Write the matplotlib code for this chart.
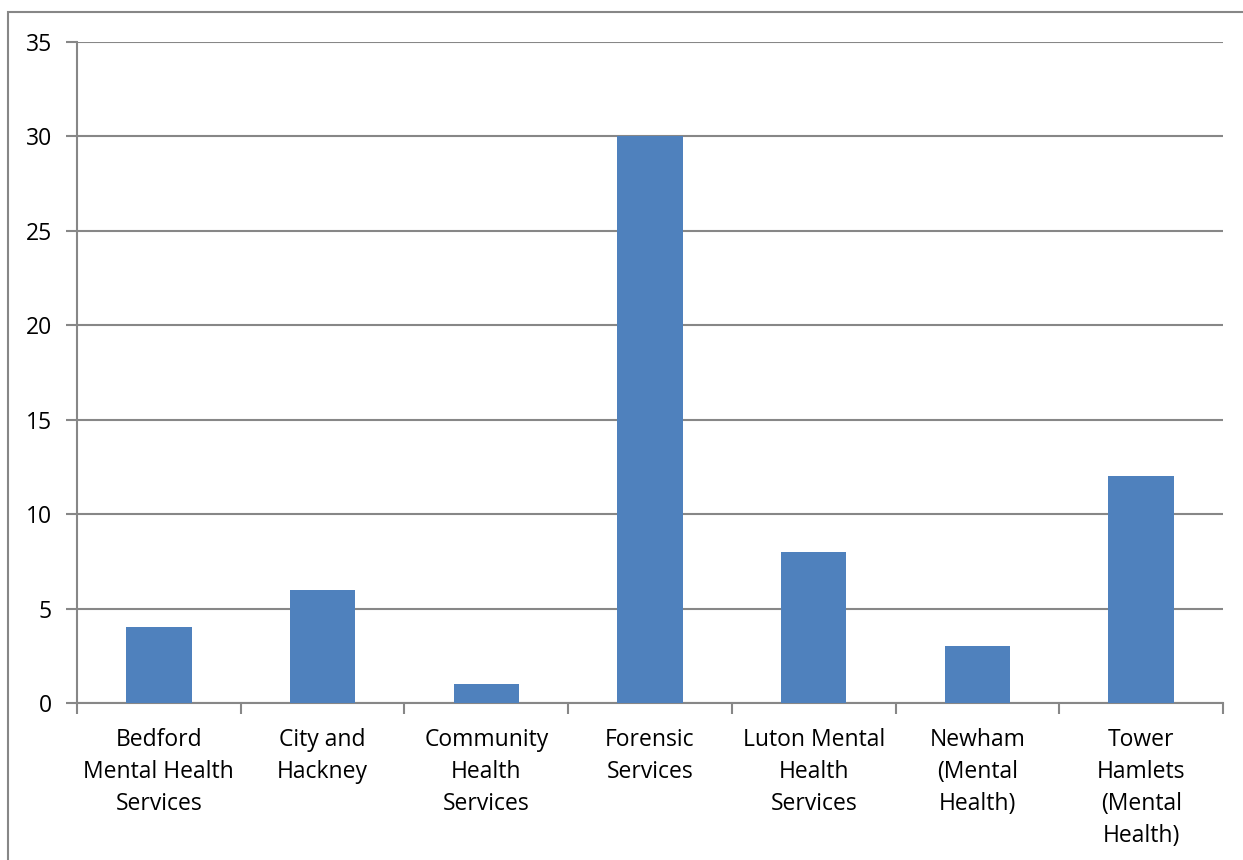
import matplotlib.pyplot as plt
from matplotlib.patches import Rectangle

# service areas and counts
services = ["Bedford\nMental Health\nServices", "City and\nHackney", "Community\nHealth\nServices",
            "Forensic\nServices", "Luton Mental\nHealth\nServices", "Newham\n(Mental\nHealth)",
            "Tower\nHamlets\n(Mental\nHealth)"]
counts = [4, 6, 1, 30, 8, 3, 12]
y_ticks = [0, 5, 10, 15, 20, 25, 30, 35]

plt.rcParams['font.family'] = ['Open Sans', 'DejaVu Sans']
grey = '#878787'

fig = plt.figure(figsize=(12.43, 8.6), dpi=100)
ax = fig.add_axes([77 / 1243, 1 - 703 / 860, (1223 - 77) / 1243, (703 - 42) / 860])

# outer chart-area border
fig.patches.append(Rectangle((8 / 1243, -0.1), 1.2, 1 - 12 / 860 + 0.1, transform=fig.transFigure,
                             fill=False, edgecolor=grey, linewidth=1.5))

x = range(len(services))
ax.bar(x, counts, width=0.4, color='#4F81BD', zorder=3)

ax.set_xlim(-0.5, len(services) - 0.5)
ax.set_ylim(0, 35)
ax.set_yticks(y_ticks)
ax.yaxis.grid(True, color=grey, linewidth=1.5)
ax.set_axisbelow(True)

for side in ['top', 'right']:
    ax.spines[side].set_visible(False)
for side in ['left', 'bottom']:
    ax.spines[side].set_color(grey)
    ax.spines[side].set_linewidth(1.5)

ax.tick_params(axis='y', length=8, width=1.5, color=grey, labelsize=16.5, pad=10)
# category boundaries get tick marks, labels sit in the middle
ax.set_xticks([i - 0.5 for i in range(len(services) + 1)])
ax.set_xticklabels([])
ax.set_xticks(list(x), minor=True)
ax.set_xticklabels(services, minor=True, fontsize=16.5, linespacing=1.45)
ax.tick_params(axis='x', which='major', length=8, width=1.5, color=grey)
ax.tick_params(axis='x', which='minor', length=0, pad=18)

fig.savefig('out.png', dpi=100)
